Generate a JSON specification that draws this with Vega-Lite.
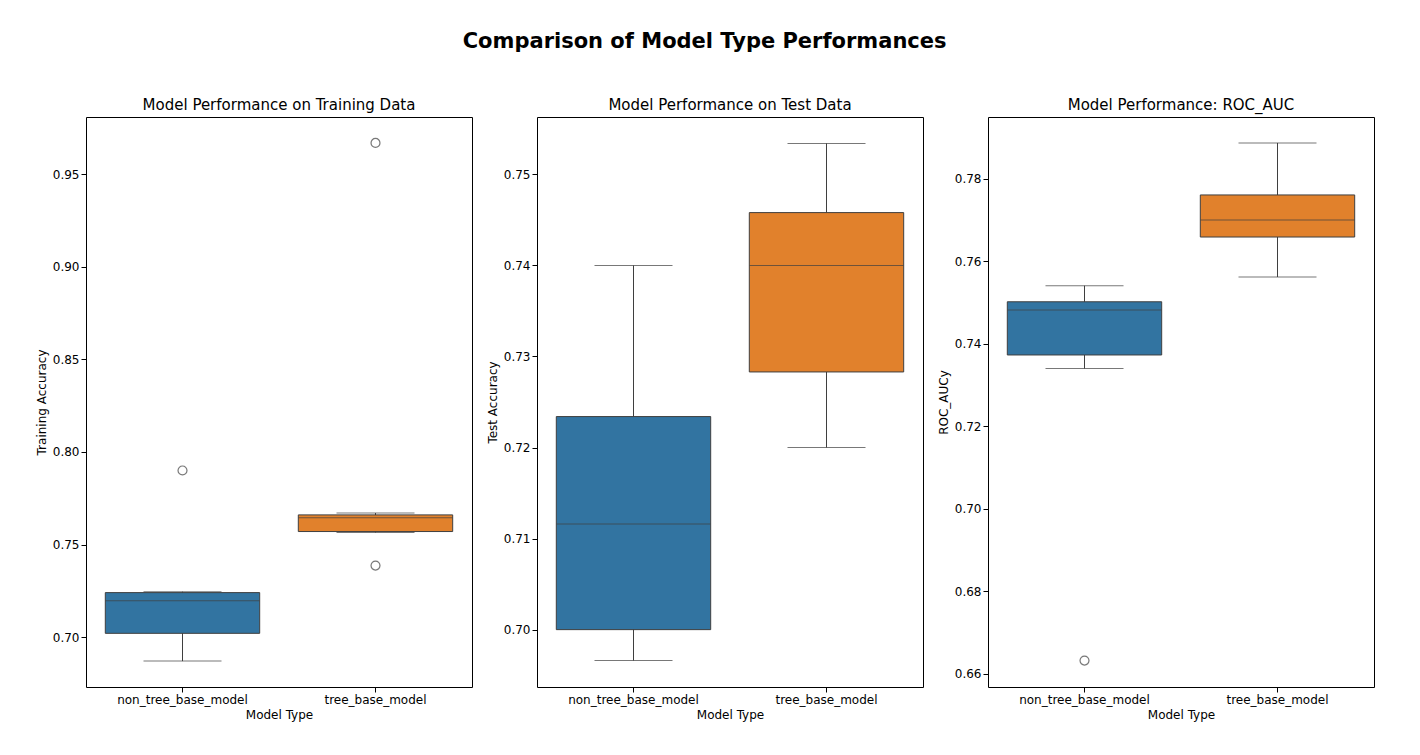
{
  "$schema": "https://vega.github.io/schema/vega-lite/v6.json",
  "background": "white",
  "padding": {"left": 34, "top": 30, "right": 20, "bottom": 10},
  "title": {"text": "Comparison of Model Type Performances", "fontSize": 21, "fontWeight": "bold", "font": "DejaVu Sans", "offset": 46, "anchor": "middle"},
  "datasets": {
    "stats": [
      {"metric": "train", "model": "non_tree_base_model", "lo": 0.687, "q1": 0.702, "med": 0.7196, "q3": 0.724, "hi": 0.7245},
      {"metric": "train", "model": "tree_base_model", "lo": 0.7565, "q1": 0.757, "med": 0.7645, "q3": 0.766, "hi": 0.767},
      {"metric": "test", "model": "non_tree_base_model", "lo": 0.6966, "q1": 0.700, "med": 0.7116, "q3": 0.7234, "hi": 0.740},
      {"metric": "test", "model": "tree_base_model", "lo": 0.720, "q1": 0.7283, "med": 0.740, "q3": 0.7458, "hi": 0.7534},
      {"metric": "roc", "model": "non_tree_base_model", "lo": 0.734, "q1": 0.7373, "med": 0.7482, "q3": 0.7502, "hi": 0.7541},
      {"metric": "roc", "model": "tree_base_model", "lo": 0.7562, "q1": 0.7659, "med": 0.770, "q3": 0.7761, "hi": 0.7887}
    ],
    "outliers": [
      {"metric": "train", "model": "non_tree_base_model", "value": 0.790},
      {"metric": "train", "model": "tree_base_model", "value": 0.7386},
      {"metric": "train", "model": "tree_base_model", "value": 0.967},
      {"metric": "roc", "model": "non_tree_base_model", "value": 0.6632}
    ]
  },
  "config": {
    "font": "DejaVu Sans",
    "view": {"stroke": "black", "strokeWidth": 1},
    "axis": {"grid": false, "labelFontSize": 12, "titleFontSize": 12, "titleFontWeight": "normal", "labelColor": "black", "titleColor": "black", "domain": false, "tickColor": "black"},
    "title": {"fontSize": 15, "fontWeight": "normal"},
    "concat": {"spacing": 12}
  },
  "hconcat": [
    {
      "title": "Model Performance on Training Data",
      "width": 386, "height": 570,
      "layer": [
        {"data": {"name": "stats"}, "transform": [{"filter": "datum.metric === 'train'"}], "mark": {"type": "rule", "color": "#3f3f3f"},
         "encoding": {"x": {"field": "model", "type": "nominal", "scale": {"paddingInner": 0, "paddingOuter": 0}, "axis": {"labelAngle": 0, "title": "Model Type"}},
                      "y": {"field": "lo", "type": "quantitative", "scale": {"domain": [0.673, 0.981], "nice": false, "zero": false}, "axis": {"values": [0.70, 0.75, 0.80, 0.85, 0.90, 0.95], "format": ".2f", "title": "Training Accuracy"}},
                      "y2": {"field": "hi"}}},
        {"data": {"name": "stats"}, "transform": [{"filter": "datum.metric === 'train'"}], "mark": {"type": "tick", "color": "#3f3f3f", "size": 78, "thickness": 1}, "encoding": {"x": {"field": "model", "type": "nominal"}, "y": {"field": "lo", "type": "quantitative"}}},
        {"data": {"name": "stats"}, "transform": [{"filter": "datum.metric === 'train'"}], "mark": {"type": "tick", "color": "#3f3f3f", "size": 78, "thickness": 1}, "encoding": {"x": {"field": "model", "type": "nominal"}, "y": {"field": "hi", "type": "quantitative"}}},
        {"data": {"name": "stats"}, "transform": [{"filter": "datum.metric === 'train'"}], "mark": {"type": "bar", "stroke": "#3f3f3f", "strokeWidth": 1, "width": {"band": 0.8}},
         "encoding": {"x": {"field": "model", "type": "nominal"}, "y": {"field": "q1", "type": "quantitative"}, "y2": {"field": "q3"},
                      "color": {"field": "model", "type": "nominal", "legend": null, "scale": {"domain": ["non_tree_base_model", "tree_base_model"], "range": ["#3274a1", "#e1812c"]}}}},
        {"data": {"name": "stats"}, "transform": [{"filter": "datum.metric === 'train'"}], "mark": {"type": "tick", "color": "#3f3f3f", "size": 154, "thickness": 1}, "encoding": {"x": {"field": "model", "type": "nominal"}, "y": {"field": "med", "type": "quantitative"}}},
        {"data": {"name": "outliers"}, "transform": [{"filter": "datum.metric === 'train'"}], "mark": {"type": "point", "color": "#3f3f3f", "size": 80, "strokeWidth": 1.2}, "encoding": {"x": {"field": "model", "type": "nominal"}, "y": {"field": "value", "type": "quantitative"}}}
      ]
    },
    {
      "title": "Model Performance on Test Data",
      "width": 386, "height": 570,
      "layer": [
        {"data": {"name": "stats"}, "transform": [{"filter": "datum.metric === 'test'"}], "mark": {"type": "rule", "color": "#3f3f3f"},
         "encoding": {"x": {"field": "model", "type": "nominal", "scale": {"paddingInner": 0, "paddingOuter": 0}, "axis": {"labelAngle": 0, "title": "Model Type"}},
                      "y": {"field": "lo", "type": "quantitative", "scale": {"domain": [0.6937, 0.7563], "nice": false, "zero": false}, "axis": {"values": [0.70, 0.71, 0.72, 0.73, 0.74, 0.75], "format": ".2f", "title": "Test Accuracy"}},
                      "y2": {"field": "hi"}}},
        {"data": {"name": "stats"}, "transform": [{"filter": "datum.metric === 'test'"}], "mark": {"type": "tick", "color": "#3f3f3f", "size": 78, "thickness": 1}, "encoding": {"x": {"field": "model", "type": "nominal"}, "y": {"field": "lo", "type": "quantitative"}}},
        {"data": {"name": "stats"}, "transform": [{"filter": "datum.metric === 'test'"}], "mark": {"type": "tick", "color": "#3f3f3f", "size": 78, "thickness": 1}, "encoding": {"x": {"field": "model", "type": "nominal"}, "y": {"field": "hi", "type": "quantitative"}}},
        {"data": {"name": "stats"}, "transform": [{"filter": "datum.metric === 'test'"}], "mark": {"type": "bar", "stroke": "#3f3f3f", "strokeWidth": 1, "width": {"band": 0.8}},
         "encoding": {"x": {"field": "model", "type": "nominal"}, "y": {"field": "q1", "type": "quantitative"}, "y2": {"field": "q3"},
                      "color": {"field": "model", "type": "nominal", "legend": null, "scale": {"domain": ["non_tree_base_model", "tree_base_model"], "range": ["#3274a1", "#e1812c"]}}}},
        {"data": {"name": "stats"}, "transform": [{"filter": "datum.metric === 'test'"}], "mark": {"type": "tick", "color": "#3f3f3f", "size": 154, "thickness": 1}, "encoding": {"x": {"field": "model", "type": "nominal"}, "y": {"field": "med", "type": "quantitative"}}}
      ]
    },
    {
      "title": "Model Performance: ROC_AUC",
      "width": 386, "height": 570,
      "layer": [
        {"data": {"name": "stats"}, "transform": [{"filter": "datum.metric === 'roc'"}], "mark": {"type": "rule", "color": "#3f3f3f"},
         "encoding": {"x": {"field": "model", "type": "nominal", "scale": {"paddingInner": 0, "paddingOuter": 0}, "axis": {"labelAngle": 0, "title": "Model Type"}},
                      "y": {"field": "lo", "type": "quantitative", "scale": {"domain": [0.6568, 0.795], "nice": false, "zero": false}, "axis": {"values": [0.66, 0.68, 0.70, 0.72, 0.74, 0.76, 0.78], "format": ".2f", "title": "ROC_AUCy"}},
                      "y2": {"field": "hi"}}},
        {"data": {"name": "stats"}, "transform": [{"filter": "datum.metric === 'roc'"}], "mark": {"type": "tick", "color": "#3f3f3f", "size": 78, "thickness": 1}, "encoding": {"x": {"field": "model", "type": "nominal"}, "y": {"field": "lo", "type": "quantitative"}}},
        {"data": {"name": "stats"}, "transform": [{"filter": "datum.metric === 'roc'"}], "mark": {"type": "tick", "color": "#3f3f3f", "size": 78, "thickness": 1}, "encoding": {"x": {"field": "model", "type": "nominal"}, "y": {"field": "hi", "type": "quantitative"}}},
        {"data": {"name": "stats"}, "transform": [{"filter": "datum.metric === 'roc'"}], "mark": {"type": "bar", "stroke": "#3f3f3f", "strokeWidth": 1, "width": {"band": 0.8}},
         "encoding": {"x": {"field": "model", "type": "nominal"}, "y": {"field": "q1", "type": "quantitative"}, "y2": {"field": "q3"},
                      "color": {"field": "model", "type": "nominal", "legend": null, "scale": {"domain": ["non_tree_base_model", "tree_base_model"], "range": ["#3274a1", "#e1812c"]}}}},
        {"data": {"name": "stats"}, "transform": [{"filter": "datum.metric === 'roc'"}], "mark": {"type": "tick", "color": "#3f3f3f", "size": 154, "thickness": 1}, "encoding": {"x": {"field": "model", "type": "nominal"}, "y": {"field": "med", "type": "quantitative"}}},
        {"data": {"name": "outliers"}, "transform": [{"filter": "datum.metric === 'roc'"}], "mark": {"type": "point", "color": "#3f3f3f", "size": 80, "strokeWidth": 1.2}, "encoding": {"x": {"field": "model", "type": "nominal"}, "y": {"field": "value", "type": "quantitative"}}}
      ]
    }
  ]
}
